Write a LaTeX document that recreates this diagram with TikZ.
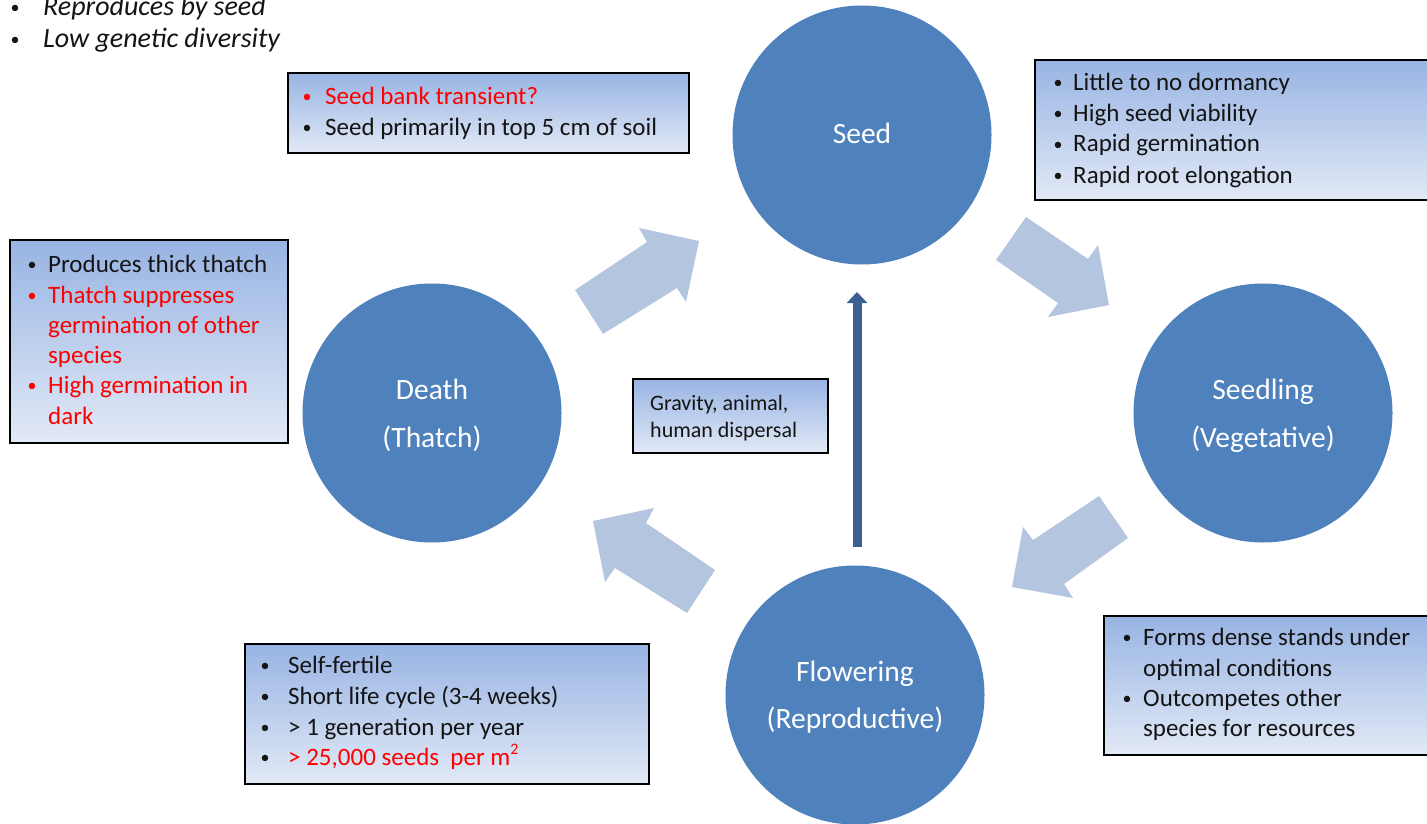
\documentclass[tikz,border=0pt]{standalone}
\usepackage{fontspec}
\setmainfont{Carlito}
\usetikzlibrary{arrows.meta}
\definecolor{circ}{RGB}{79,129,189}
\definecolor{blk}{RGB}{180,197,224}
\definecolor{thinarr}{RGB}{59,95,145}
\definecolor{gtop}{RGB}{152,180,227}
\definecolor{gbot}{RGB}{226,233,246}
\definecolor{txt}{RGB}{20,20,20}
\definecolor{rd}{RGB}{255,0,0}
\tikzset{
 stage/.style={circle, fill=circ, minimum size=259pt, inner sep=0pt},
 ctext/.style={anchor=base, text=white, font=\fontsize{29.5}{34}\selectfont, inner sep=0pt},
 infobox/.style={draw=black, line width=1.6pt, top color=gtop, bottom color=gbot, anchor=north west, inner sep=0pt},
 itxt/.style={anchor=base west, inner sep=0pt, font=\fontsize{25}{30}\selectfont, text=txt},
 bul/.style={anchor=base, inner sep=0pt, yshift=2pt, font=\fontsize{18}{20}\selectfont, text=txt},
 red/.style={text=rd},
 blockarrow/.style={fill=blk, draw=none},
 disparrow/.style={draw=thinarr, line width=9pt, -{Triangle[width=20pt,length=11pt]}},
}
\begin{document}
\begin{tikzpicture}[x=1pt,y=-1pt]
\useasboundingbox (0,0) rectangle (1427,824);
\fill[white] (0,0) rectangle (1427,824);

% top-left italic notes
\node[bul] (tlb1) at (15,16) {•};
\node[itxt, font=\fontsize{28}{32}\selectfont\itshape] (tl1) at (43,16) {Reproduces by seed};
\node[bul] (tlb2) at (15,48) {•};
\node[itxt, font=\fontsize{28}{32}\selectfont\itshape] (tl2) at (43,48) {Low genetic diversity};

% block arrows
\path[blockarrow] (575,290) -- (647,242) -- (639,228) -- (699,241) -- (686,302) -- (677,288) -- (603,334) -- cycle;
\path[blockarrow] (1026,217) -- (1088,259) -- (1098,245) -- (1109,305) -- (1048,317) -- (1058,303) -- (996,260) -- cycle;
\path[blockarrow] (1099,496) -- (1033,540) -- (1023,527) -- (1012,587) -- (1073,598) -- (1064,584) -- (1128,538) -- cycle;
\path[blockarrow] (715,570) -- (646,523) -- (654,508) -- (593,521) -- (605,582) -- (615,568) -- (687,613) -- cycle;

% stages
\node[stage] (seed) at (862,135) {};
\node[stage] (seedling) at (1263,413) {};
\node[stage] (death) at (432,413) {};
\node[stage] (flowering) at (855,695) {};
\node[ctext] (seedt) at (862,143) {Seed};
\node[ctext] (seedlingt1) at (1263,399) {Seedling};
\node[ctext] (seedlingt2) at (1263,447) {(Vegetative)};
\node[ctext] (deatht1) at (432,399) {Death};
\node[ctext] (deatht2) at (432,447) {(Thatch)};
\node[ctext] (flowt1) at (855,681) {Flowering};
\node[ctext] (flowt2) at (855,728) {(Reproductive)};

% dispersal arrow
\coordinate (dispfrom) at (857,547);
\coordinate (dispto) at (857,292);
\draw[disparrow] (dispfrom) -- (dispto);

% seed bank box
\node[infobox, minimum width=401pt, minimum height=80pt] (bank) at (287,72) {};
\node[bul, red] at (307,105) {•};
\node[itxt, red] at (325,105) {Seed bank transient?};
\node[bul] at (307,136) {•};
\node[itxt] at (325,136) {Seed primarily in top 5 cm of soil};

% seed traits box
\node[infobox, minimum width=420pt, minimum height=140pt] (seedbox) at (1034,59) {};
\node[bul] at (1058,91) {•};
\node[itxt] at (1073,91) {Little to no dormancy};
\node[bul] at (1058,122) {•};
\node[itxt] at (1073,122) {High seed viability};
\node[bul] at (1058,152) {•};
\node[itxt] at (1073,152) {Rapid germination};
\node[bul] at (1058,183) {•};
\node[itxt] at (1073,183) {Rapid root elongation};

% thatch box
\node[infobox, minimum width=278pt, minimum height=203pt] (thatchbox) at (9,239) {};
\node[bul] at (32,272) {•};
\node[itxt] at (48,272) {Produces thick thatch};
\node[bul, red] at (32,303) {•};
\node[itxt, red] at (48,303) {Thatch suppresses};
\node[itxt, red] at (48,333) {germination of other};
\node[itxt, red] at (48,363) {species};
\node[bul, red] at (32,393) {•};
\node[itxt, red] at (48,393) {High germination in};
\node[itxt, red] at (48,424) {dark};

% dispersal box
\node[infobox, minimum width=195pt, minimum height=74pt] (dispbox) at (632,378) {};
\node[itxt, font=\fontsize{22}{27}\selectfont] at (650,410) {Gravity, animal,};
\node[itxt, font=\fontsize{22}{27}\selectfont] at (650,437) {human dispersal};

% flowering box
\node[infobox, minimum width=404pt, minimum height=140pt] (flowbox) at (244,643) {};
\node[bul] at (265,673) {•};
\node[itxt] at (288,673) {Self-fertile};
\node[bul] at (265,704) {•};
\node[itxt] at (288,704) {Short life cycle (3-4 weeks)};
\node[bul] at (265,735) {•};
\node[itxt] at (288,735) {> 1 generation per year};
\node[bul] at (265,765) {•};
\node[itxt, red] at (288,765) {> 25,000 seeds\ \ per m\raisebox{0.42em}{\fontsize{16}{16}\selectfont 2}};

% seedling box
\node[infobox, minimum width=340pt, minimum height=139pt] (seedlingbox) at (1103,615) {};
\node[bul] at (1127,645) {•};
\node[itxt] at (1143,645) {Forms dense stands under};
\node[itxt] at (1143,676) {optimal conditions};
\node[bul] at (1127,706) {•};
\node[itxt] at (1143,706) {Outcompetes other};
\node[itxt] at (1143,736) {species for resources};
\end{tikzpicture}
\end{document}
